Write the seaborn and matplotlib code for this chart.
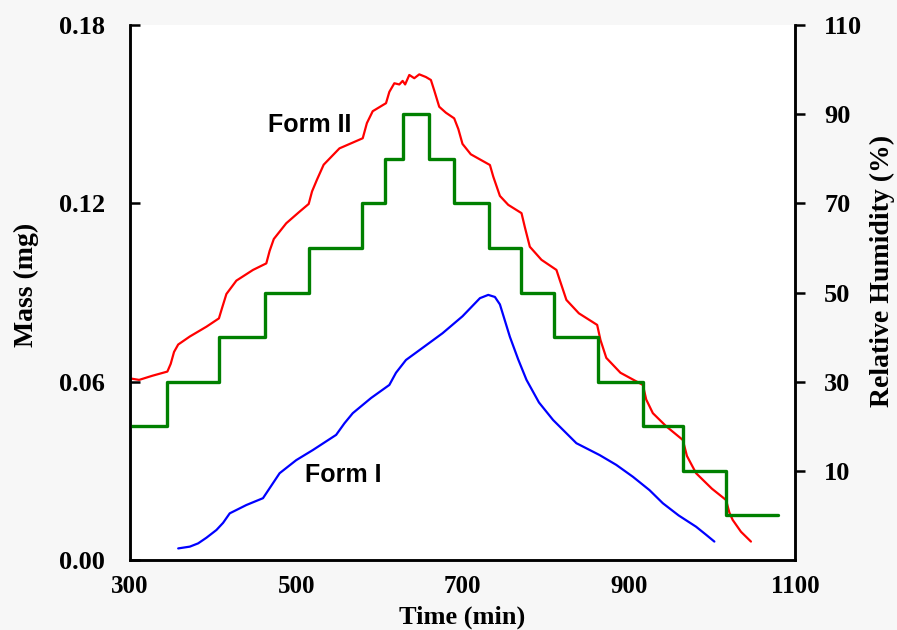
import matplotlib
matplotlib.use("Agg")
import matplotlib.pyplot as plt
import seaborn as sns
import pandas as pd

# ---- data ----
rh_time = [300, 345, 407, 463, 515, 579, 607, 628, 660, 690, 732, 770, 810, 863, 917, 965, 1017, 1080]
rh_value = [20, 30, 40, 50, 60, 70, 80, 90, 80, 70, 60, 50, 40, 30, 20, 10, 0, 0]

form2_time = [300, 311, 327, 345, 349, 353, 358, 372, 392, 407, 411, 416, 428, 448, 464, 468, 473,
              488, 504, 515, 519, 525, 533, 552, 580, 585, 592, 608, 612, 618, 624, 628, 631, 636,
              642, 648, 656, 662, 666, 672, 680, 690, 695, 700, 710, 733, 737, 745, 755, 771, 775,
              781, 795, 813, 817, 825, 840, 862, 866, 873, 890, 917, 921, 929, 945, 965, 970, 981,
              1000, 1017, 1021, 1025, 1035, 1047]
form2_mass = [0.0611, 0.0606, 0.0620, 0.0634, 0.0660, 0.0700, 0.0725, 0.0752, 0.0785, 0.0813,
              0.0850, 0.0895, 0.0940, 0.0976, 0.0998, 0.1040, 0.1080, 0.1133, 0.1172, 0.1198,
              0.1240, 0.1280, 0.1330, 0.1385, 0.1419, 0.1470, 0.1510, 0.1537, 0.1575, 0.1604,
              0.1600, 0.1612, 0.1600, 0.1632, 0.1621, 0.1634, 0.1625, 0.1615, 0.1580, 0.1525,
              0.1505, 0.1486, 0.1450, 0.1400, 0.1365, 0.1329, 0.1290, 0.1225, 0.1195, 0.1167,
              0.1120, 0.1054, 0.1010, 0.0976, 0.0942, 0.0875, 0.0830, 0.0791, 0.0740, 0.0680,
              0.0630, 0.0589, 0.0540, 0.0494, 0.0450, 0.0404, 0.0350, 0.0292, 0.0240, 0.0202,
              0.0160, 0.0135, 0.0095, 0.0062]

form1_time = [358, 365, 372, 382, 392, 404, 412, 420, 440, 460, 470, 480, 500, 520, 548, 558, 568,
              590, 612, 620, 632, 655, 676, 700, 721, 731, 739, 745, 757, 767, 777, 792, 809, 837,
              865, 885, 905, 925, 941, 960, 981, 993, 1003]
form1_mass = [0.0039, 0.0042, 0.0045, 0.0056, 0.0075, 0.0101, 0.0125, 0.0157, 0.0185, 0.0208,
              0.0250, 0.0292, 0.0336, 0.0370, 0.0421, 0.0460, 0.0494, 0.0545, 0.0589, 0.0630,
              0.0673, 0.0720, 0.0763, 0.0820, 0.0881, 0.0892, 0.0885, 0.0860, 0.0751, 0.0675,
              0.0606, 0.0530, 0.0471, 0.0393, 0.0353, 0.0320, 0.0280, 0.0235, 0.0191, 0.0150,
              0.0112, 0.0085, 0.0062]

x_ticks = [300, 500, 700, 900, 1100]
mass_ticks = [0.00, 0.06, 0.12, 0.18]
mass_tick_labels = ["0.00", "0.06", "0.12", "0.18"]
rh_ticks = [10, 30, 50, 70, 90, 110]

# ---- styling ----
sns.set_style("white")
plt.rcParams["font.family"] = ["Liberation Serif", "DejaVu Serif"]
plt.rcParams["font.weight"] = "bold"
for k in ("text.color", "axes.labelcolor", "xtick.color", "ytick.color"):
    plt.rcParams[k] = "black"

fig = plt.figure(figsize=(8.97, 6.30), dpi=100, facecolor="#f7f7f7")
ax = fig.add_axes([0.1449, 0.1111, 0.7414, 0.8492])
ax.set_facecolor("white")
ax2 = ax.twinx()

df2 = pd.DataFrame({"t": form2_time, "m": form2_mass})
df1 = pd.DataFrame({"t": form1_time, "m": form1_mass})
dfrh = pd.DataFrame({"t": rh_time, "rh": rh_value})

sns.lineplot(data=df2, x="t", y="m", ax=ax, color="#ff0000", linewidth=1.6,
             estimator=None, sort=False)
sns.lineplot(data=df1, x="t", y="m", ax=ax, color="#0000ff", linewidth=1.6,
             estimator=None, sort=False)
sns.lineplot(data=dfrh, x="t", y="rh", ax=ax2, color="#008000", linewidth=2.4,
             estimator=None, sort=False, drawstyle="steps-post")

ax.set_xlim(300, 1100)
ax.set_ylim(0, 0.18)
ax2.set_ylim(-10, 110)

ax.set_xticks(x_ticks)
ax.set_xticklabels([str(v) for v in x_ticks])
ax.set_yticks(mass_ticks)
ax.set_yticklabels(mass_tick_labels)
ax2.set_yticks(rh_ticks)
ax2.set_yticklabels([str(v) for v in rh_ticks])

for a in (ax, ax2):
    for s in a.spines.values():
        s.set_linewidth(1.8)
        s.set_color("black")
    a.spines["top"].set_visible(False)

ax.tick_params(axis="x", direction="in", length=8, width=1.8, pad=11, labelsize=18,
               colors="black")
ax.tick_params(axis="y", direction="in", length=7, width=1.8, pad=18, labelsize=19,
               colors="black")
ax2.tick_params(axis="y", direction="out", length=7, width=1.8, pad=14, labelsize=19,
                right=True, left=False, colors="black")
for lab in ax.get_xticklabels() + ax.get_yticklabels() + ax2.get_yticklabels():
    lab.set_fontweight("bold")

ax.set_xlabel("Time (min)", fontsize=19, fontweight="bold", color="black")
ax.set_ylabel("Mass (mg)", fontsize=20, fontweight="bold", color="black")
ax2.set_ylabel("Relative Humidity (%)", fontsize=20, fontweight="bold", color="black")
ax.xaxis.label.set_va("bottom")
ax.xaxis.set_label_coords(0.5, -0.1295)
ax.yaxis.label.set_va("center")
ax.yaxis.set_label_coords(-0.155, 0.515)
ax2.yaxis.label.set_va("center")
ax2.yaxis.set_label_coords(1.131, 0.54)

ax.text(516, 0.1464, "Form II", fontsize=18, fontweight="bold", color="black",
        family=["Liberation Sans", "DejaVu Sans"], ha="center", va="center")
ax.text(556, 0.0286, "Form I", fontsize=18, fontweight="bold", color="black",
        family=["Liberation Sans", "DejaVu Sans"], ha="center", va="center")

fig.savefig("out.png", dpi=100, facecolor=fig.get_facecolor())
